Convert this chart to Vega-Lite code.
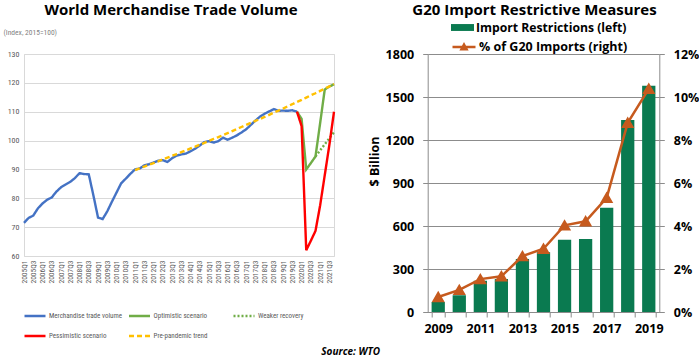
{
  "$schema": "https://vega.github.io/schema/vega-lite/v6.json",
  "padding": {"left": 2, "top": 2, "right": 0, "bottom": 2},
  "background": "white",
  "config": {"font": "Open Sans", "view": {"stroke": null}},
  "bounds": "flush",
  "spacing": 93.7,
  "title": {"text": "Source: WTO", "orient": "bottom", "anchor": "middle", "font": "Open Sans", "fontSize": 10, "fontStyle": "italic", "fontWeight": "bold", "color": "#000000", "offset": 6},
  "datasets": {
    "trade": [
      {"q": "2005Q1", "s": "Merchandise trade volume", "v": 71.5},
      {"q": "2005Q2", "s": "Merchandise trade volume", "v": 73.2},
      {"q": "2005Q3", "s": "Merchandise trade volume", "v": 74.0},
      {"q": "2005Q4", "s": "Merchandise trade volume", "v": 76.5},
      {"q": "2006Q1", "s": "Merchandise trade volume", "v": 78.2},
      {"q": "2006Q2", "s": "Merchandise trade volume", "v": 79.5},
      {"q": "2006Q3", "s": "Merchandise trade volume", "v": 80.3},
      {"q": "2006Q4", "s": "Merchandise trade volume", "v": 82.3},
      {"q": "2007Q1", "s": "Merchandise trade volume", "v": 83.8},
      {"q": "2007Q2", "s": "Merchandise trade volume", "v": 84.8},
      {"q": "2007Q3", "s": "Merchandise trade volume", "v": 85.7},
      {"q": "2007Q4", "s": "Merchandise trade volume", "v": 87.0},
      {"q": "2008Q1", "s": "Merchandise trade volume", "v": 88.7},
      {"q": "2008Q2", "s": "Merchandise trade volume", "v": 88.4},
      {"q": "2008Q3", "s": "Merchandise trade volume", "v": 88.3},
      {"q": "2008Q4", "s": "Merchandise trade volume", "v": 81.0},
      {"q": "2009Q1", "s": "Merchandise trade volume", "v": 73.3},
      {"q": "2009Q2", "s": "Merchandise trade volume", "v": 72.8},
      {"q": "2009Q3", "s": "Merchandise trade volume", "v": 75.5},
      {"q": "2009Q4", "s": "Merchandise trade volume", "v": 78.8},
      {"q": "2010Q1", "s": "Merchandise trade volume", "v": 82.0},
      {"q": "2010Q2", "s": "Merchandise trade volume", "v": 85.2},
      {"q": "2010Q3", "s": "Merchandise trade volume", "v": 86.8},
      {"q": "2010Q4", "s": "Merchandise trade volume", "v": 88.5},
      {"q": "2011Q1", "s": "Merchandise trade volume", "v": 90.0},
      {"q": "2011Q2", "s": "Merchandise trade volume", "v": 90.3},
      {"q": "2011Q3", "s": "Merchandise trade volume", "v": 91.4},
      {"q": "2011Q4", "s": "Merchandise trade volume", "v": 91.8},
      {"q": "2012Q1", "s": "Merchandise trade volume", "v": 92.4},
      {"q": "2012Q2", "s": "Merchandise trade volume", "v": 93.0},
      {"q": "2012Q3", "s": "Merchandise trade volume", "v": 93.2},
      {"q": "2012Q4", "s": "Merchandise trade volume", "v": 92.6},
      {"q": "2013Q1", "s": "Merchandise trade volume", "v": 93.9},
      {"q": "2013Q2", "s": "Merchandise trade volume", "v": 94.8},
      {"q": "2013Q3", "s": "Merchandise trade volume", "v": 95.2},
      {"q": "2013Q4", "s": "Merchandise trade volume", "v": 95.5},
      {"q": "2014Q1", "s": "Merchandise trade volume", "v": 96.3},
      {"q": "2014Q2", "s": "Merchandise trade volume", "v": 97.2},
      {"q": "2014Q3", "s": "Merchandise trade volume", "v": 98.3},
      {"q": "2014Q4", "s": "Merchandise trade volume", "v": 99.5},
      {"q": "2015Q1", "s": "Merchandise trade volume", "v": 99.8},
      {"q": "2015Q2", "s": "Merchandise trade volume", "v": 99.3},
      {"q": "2015Q3", "s": "Merchandise trade volume", "v": 99.8},
      {"q": "2015Q4", "s": "Merchandise trade volume", "v": 101.0},
      {"q": "2016Q1", "s": "Merchandise trade volume", "v": 100.3},
      {"q": "2016Q2", "s": "Merchandise trade volume", "v": 101.0},
      {"q": "2016Q3", "s": "Merchandise trade volume", "v": 101.8},
      {"q": "2016Q4", "s": "Merchandise trade volume", "v": 102.8},
      {"q": "2017Q1", "s": "Merchandise trade volume", "v": 103.9},
      {"q": "2017Q2", "s": "Merchandise trade volume", "v": 105.4},
      {"q": "2017Q3", "s": "Merchandise trade volume", "v": 106.9},
      {"q": "2017Q4", "s": "Merchandise trade volume", "v": 108.3},
      {"q": "2018Q1", "s": "Merchandise trade volume", "v": 109.3},
      {"q": "2018Q2", "s": "Merchandise trade volume", "v": 110.1},
      {"q": "2018Q3", "s": "Merchandise trade volume", "v": 110.9},
      {"q": "2018Q4", "s": "Merchandise trade volume", "v": 110.3},
      {"q": "2019Q1", "s": "Merchandise trade volume", "v": 110.4},
      {"q": "2019Q2", "s": "Merchandise trade volume", "v": 110.3},
      {"q": "2019Q3", "s": "Merchandise trade volume", "v": 110.5},
      {"q": "2019Q4", "s": "Merchandise trade volume", "v": 110.0},
      {"q": "2019Q4", "s": "Optimistic scenario", "v": 110.0},
      {"q": "2020Q1", "s": "Optimistic scenario", "v": 107.5},
      {"q": "2020Q2", "s": "Optimistic scenario", "v": 90.0},
      {"q": "2020Q3", "s": "Optimistic scenario", "v": 92.2},
      {"q": "2020Q4", "s": "Optimistic scenario", "v": 94.5},
      {"q": "2021Q1", "s": "Optimistic scenario", "v": 106.0},
      {"q": "2021Q2", "s": "Optimistic scenario", "v": 117.7},
      {"q": "2021Q3", "s": "Optimistic scenario", "v": 118.7},
      {"q": "2021Q4", "s": "Optimistic scenario", "v": 119.5},
      {"q": "2020Q4", "s": "Weaker recovery", "v": 94.5},
      {"q": "2021Q1", "s": "Weaker recovery", "v": 96.6},
      {"q": "2021Q2", "s": "Weaker recovery", "v": 98.7},
      {"q": "2021Q3", "s": "Weaker recovery", "v": 100.8},
      {"q": "2021Q4", "s": "Weaker recovery", "v": 102.9},
      {"q": "2019Q4", "s": "Pessimistic scenario", "v": 110.0},
      {"q": "2020Q1", "s": "Pessimistic scenario", "v": 105.0},
      {"q": "2020Q2", "s": "Pessimistic scenario", "v": 62.0},
      {"q": "2020Q3", "s": "Pessimistic scenario", "v": 65.3},
      {"q": "2020Q4", "s": "Pessimistic scenario", "v": 68.7},
      {"q": "2021Q1", "s": "Pessimistic scenario", "v": 77.5},
      {"q": "2021Q2", "s": "Pessimistic scenario", "v": 88.0},
      {"q": "2021Q3", "s": "Pessimistic scenario", "v": 98.5},
      {"q": "2021Q4", "s": "Pessimistic scenario", "v": 110.0},
      {"q": "2011Q1", "s": "Pre-pandemic trend", "v": 89.8},
      {"q": "2011Q2", "s": "Pre-pandemic trend", "v": 90.4},
      {"q": "2011Q3", "s": "Pre-pandemic trend", "v": 91.0},
      {"q": "2011Q4", "s": "Pre-pandemic trend", "v": 91.6},
      {"q": "2012Q1", "s": "Pre-pandemic trend", "v": 92.2},
      {"q": "2012Q2", "s": "Pre-pandemic trend", "v": 92.8},
      {"q": "2012Q3", "s": "Pre-pandemic trend", "v": 93.5},
      {"q": "2012Q4", "s": "Pre-pandemic trend", "v": 94.1},
      {"q": "2013Q1", "s": "Pre-pandemic trend", "v": 94.7},
      {"q": "2013Q2", "s": "Pre-pandemic trend", "v": 95.3},
      {"q": "2013Q3", "s": "Pre-pandemic trend", "v": 96.0},
      {"q": "2013Q4", "s": "Pre-pandemic trend", "v": 96.6},
      {"q": "2014Q1", "s": "Pre-pandemic trend", "v": 97.3},
      {"q": "2014Q2", "s": "Pre-pandemic trend", "v": 97.9},
      {"q": "2014Q3", "s": "Pre-pandemic trend", "v": 98.6},
      {"q": "2014Q4", "s": "Pre-pandemic trend", "v": 99.2},
      {"q": "2015Q1", "s": "Pre-pandemic trend", "v": 99.9},
      {"q": "2015Q2", "s": "Pre-pandemic trend", "v": 100.6},
      {"q": "2015Q3", "s": "Pre-pandemic trend", "v": 101.2},
      {"q": "2015Q4", "s": "Pre-pandemic trend", "v": 101.9},
      {"q": "2016Q1", "s": "Pre-pandemic trend", "v": 102.6},
      {"q": "2016Q2", "s": "Pre-pandemic trend", "v": 103.3},
      {"q": "2016Q3", "s": "Pre-pandemic trend", "v": 104.0},
      {"q": "2016Q4", "s": "Pre-pandemic trend", "v": 104.7},
      {"q": "2017Q1", "s": "Pre-pandemic trend", "v": 105.4},
      {"q": "2017Q2", "s": "Pre-pandemic trend", "v": 106.1},
      {"q": "2017Q3", "s": "Pre-pandemic trend", "v": 106.8},
      {"q": "2017Q4", "s": "Pre-pandemic trend", "v": 107.5},
      {"q": "2018Q1", "s": "Pre-pandemic trend", "v": 108.2},
      {"q": "2018Q2", "s": "Pre-pandemic trend", "v": 108.9},
      {"q": "2018Q3", "s": "Pre-pandemic trend", "v": 109.7},
      {"q": "2018Q4", "s": "Pre-pandemic trend", "v": 110.4},
      {"q": "2019Q1", "s": "Pre-pandemic trend", "v": 111.1},
      {"q": "2019Q2", "s": "Pre-pandemic trend", "v": 111.9},
      {"q": "2019Q3", "s": "Pre-pandemic trend", "v": 112.6},
      {"q": "2019Q4", "s": "Pre-pandemic trend", "v": 113.4},
      {"q": "2020Q1", "s": "Pre-pandemic trend", "v": 114.1},
      {"q": "2020Q2", "s": "Pre-pandemic trend", "v": 114.9},
      {"q": "2020Q3", "s": "Pre-pandemic trend", "v": 115.7},
      {"q": "2020Q4", "s": "Pre-pandemic trend", "v": 116.4},
      {"q": "2021Q1", "s": "Pre-pandemic trend", "v": 117.2},
      {"q": "2021Q2", "s": "Pre-pandemic trend", "v": 118.0},
      {"q": "2021Q3", "s": "Pre-pandemic trend", "v": 118.8},
      {"q": "2021Q4", "s": "Pre-pandemic trend", "v": 119.6}
    ],
    "g20": [
      {"year": 2009, "restr": 70, "pct": 0.70},
      {"year": 2010, "restr": 117, "pct": 1.03},
      {"year": 2011, "restr": 218, "pct": 1.53},
      {"year": 2012, "restr": 230, "pct": 1.66},
      {"year": 2013, "restr": 370, "pct": 2.60},
      {"year": 2014, "restr": 417, "pct": 2.94},
      {"year": 2015, "restr": 504, "pct": 4.03},
      {"year": 2016, "restr": 509, "pct": 4.22},
      {"year": 2017, "restr": 727, "pct": 5.31},
      {"year": 2018, "restr": 1340, "pct": 8.80},
      {"year": 2019, "restr": 1578, "pct": 10.38}
    ]
  },
  "hconcat": [
    {
      "width": 310,
      "height": 202,
      "view": {"stroke": "#d9d9d9"},
      "title": {"text": "World Merchandise Trade Volume", "font": "Open Sans", "fontSize": 15, "fontWeight": "bold", "color": "#000000", "anchor": "middle", "dx": -8, "offset": 10},
      "data": {"name": "trade"},
      "mark": {"type": "line", "strokeWidth": 2.4},
      "encoding": {
        "x": {
          "field": "q", "type": "ordinal", "sort": null,
          "scale": {"type": "point", "padding": 0},
          "axis": {"labelExpr": "indexof(datum.value, 'Q2') > 0 || indexof(datum.value, 'Q4') > 0 ? '' : datum.value", "labelAngle": 270, "labelFontSize": 7.5, "labelColor": "#595959", "labelFont": "Liberation Sans Narrow, Roboto Condensed, DejaVu Sans Condensed, Roboto, sans-serif", "labelPadding": 4, "ticks": false, "domain": false, "grid": false, "title": null, "labelOverlap": false, "labelFlush": false}
        },
        "y": {
          "field": "v", "type": "quantitative",
          "scale": {"domain": [60, 130], "nice": false, "zero": false},
          "axis": {"values": [60, 70, 80, 90, 100, 110, 120, 130], "grid": true, "gridColor": "#d9d9d9", "domain": false, "ticks": false, "labelFontSize": 8, "labelColor": "#595959", "labelFont": "Liberation Sans Narrow, Roboto Condensed, DejaVu Sans Condensed, Roboto, sans-serif", "labelPadding": 5, "title": "(Index, 2015=100)", "titleAngle": 0, "titleAlign": "left", "titleBaseline": "middle", "titleX": -21, "titleY": -22, "titleFontSize": 7.5, "titleFontWeight": "normal", "titleColor": "#7f7f7f", "titleFont": "Liberation Sans Narrow, Roboto Condensed, DejaVu Sans Condensed, Roboto, sans-serif"}
        },
        "color": {
          "field": "s", "type": "nominal",
          "scale": {"domain": ["Merchandise trade volume", "Optimistic scenario", "Weaker recovery", "Pessimistic scenario", "Pre-pandemic trend"], "range": ["#4472C4", "#70AD47", "#70AD47", "#FF0000", "#FFC000"]},
          "legend": {"orient": "none", "legendX": -1, "legendY": 250, "direction": "horizontal", "title": null, "columns": 3, "gridAlign": "all", "symbolType": "stroke", "symbolSize": 441, "symbolStrokeWidth": 2.5, "labelFontSize": 7, "labelColor": "#595959", "labelFont": "Liberation Sans Narrow, Roboto Condensed, DejaVu Sans Condensed, Roboto, sans-serif", "labelOffset": 2, "columnPadding": 1.5, "rowPadding": 3}
        },
        "strokeDash": {
          "field": "s", "type": "nominal",
          "scale": {"domain": ["Merchandise trade volume", "Optimistic scenario", "Weaker recovery", "Pessimistic scenario", "Pre-pandemic trend"], "range": [[1, 0], [1, 0], [2, 2], [1, 0], [5, 3]]},
          "legend": {"orient": "none", "legendX": -1, "legendY": 250, "direction": "horizontal", "title": null, "columns": 3, "gridAlign": "all", "symbolType": "stroke", "symbolSize": 441, "symbolStrokeWidth": 2.5, "labelFontSize": 7, "labelColor": "#595959", "labelFont": "Liberation Sans Narrow, Roboto Condensed, DejaVu Sans Condensed, Roboto, sans-serif", "labelOffset": 2, "columnPadding": 1.5, "rowPadding": 3}
        }
      }
    },
    {
      "width": 231.6,
      "height": 258,
      "title": {"text": "G20 Import Restrictive Measures", "font": "Open Sans", "fontSize": 15, "fontWeight": "bold", "color": "#000000", "anchor": "middle", "dx": -9, "offset": 30},
      "data": {"name": "g20"},
      "encoding": {
        "x": {
          "field": "year", "type": "ordinal",
          "scale": {"paddingInner": 0.37, "paddingOuter": 0.185},
          "axis": {"labelExpr": "datum.value % 2 == 1 ? datum.label : ''", "labelAngle": 0, "tickBand": "extent", "ticks": true, "tickSize": 5, "tickColor": "#8c8c8c", "domainColor": "#8c8c8c", "labelFont": "Open Sans", "labelFontSize": 12.5, "labelFontWeight": "bold", "labelColor": "#000000", "labelPadding": 5, "title": null}
        }
      },
      "layer": [
        {
          "mark": {"type": "bar"},
          "encoding": {
            "y": {
              "field": "restr", "type": "quantitative",
              "scale": {"domain": [0, 1800], "nice": false},
              "axis": {"values": [0, 300, 600, 900, 1200, 1500, 1800], "format": "d", "grid": true, "gridColor": "#8c8c8c", "domainColor": "#8c8c8c", "tickColor": "#8c8c8c", "tickSize": 5, "labelFont": "Open Sans", "labelFontSize": 12.5, "labelFontWeight": "bold", "labelColor": "#000000", "labelPadding": 9, "title": "$ Billion", "titleFont": "Open Sans", "titleFontSize": 12.5, "titleFontWeight": "bold", "titleColor": "#000000", "titlePadding": 4, "titleAlign": "center", "titleY": 107}
            },
            "fill": {
              "datum": "Import Restrictions (left)", "type": "nominal",
              "scale": {"range": ["#0A7A50"]},
              "legend": {"orient": "none", "legendX": 427, "legendY": -38, "title": null, "symbolType": "M-1,-0.3H1V0.3H-1Z", "symbolSize": 529, "symbolStrokeWidth": 0, "labelFont": "Open Sans", "labelFontSize": 12.2, "labelFontWeight": "bold", "labelColor": "#000000", "labelOffset": 2}
            }
          }
        },
        {
          "encoding": {
            "y": {
              "field": "pct", "type": "quantitative",
              "scale": {"domain": [0, 12], "nice": false},
              "axis": {"orient": "right", "values": [0, 2, 4, 6, 8, 10, 12], "labelExpr": "datum.value + '%'", "grid": false, "domainColor": "#8c8c8c", "tickColor": "#8c8c8c", "tickSize": 5, "labelFont": "Open Sans", "labelFontSize": 12.5, "labelFontWeight": "bold", "labelColor": "#000000", "labelPadding": 9, "title": null}
            },
            "stroke": {
              "datum": "% of G20 Imports (right)", "type": "nominal",
              "scale": {"range": ["#C65A1E"]},
              "legend": {"orient": "none", "legendX": 427, "legendY": -20, "title": null, "symbolType": "M-1,0H1M-0.22,0.2L0,-0.2L0.22,0.2Z", "symbolSize": 529, "symbolStrokeWidth": 2.5, "symbolFillColor": "#C65A1E", "labelFont": "Open Sans", "labelFontSize": 12.5, "labelFontWeight": "bold", "labelColor": "#000000", "labelOffset": 2}
            }
          },
          "layer": [
            {"mark": {"type": "line", "strokeWidth": 2.5}},
            {"mark": {"type": "point", "shape": "triangle-up", "size": 95, "filled": true, "fill": "#C65A1E", "opacity": 1}}
          ]
        }
      ],
      "resolve": {"scale": {"y": "independent"}}
    }
  ]
}
